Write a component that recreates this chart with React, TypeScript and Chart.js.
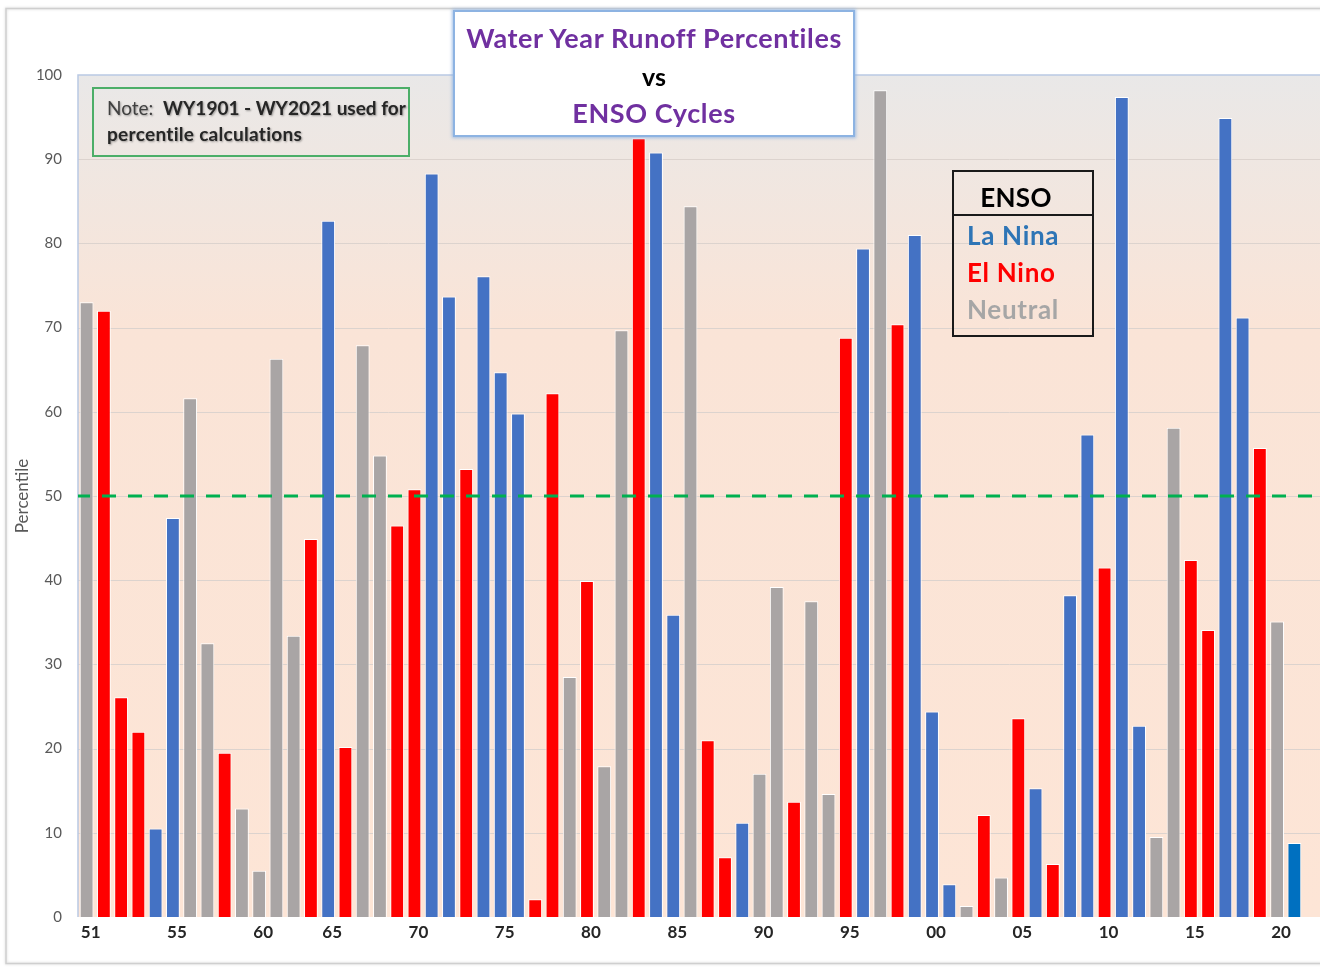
import React, { useEffect, useRef } from 'react';
import { Chart, registerables } from 'chart.js';

Chart.register(...registerables);

// ---- data ----
const years = [
  1951, 1952, 1953, 1954, 1955, 1956, 1957, 1958, 1959, 1960,
  1961, 1962, 1963, 1964, 1965, 1966, 1967, 1968, 1969, 1970,
  1971, 1972, 1973, 1974, 1975, 1976, 1977, 1978, 1979, 1980,
  1981, 1982, 1983, 1984, 1985, 1986, 1987, 1988, 1989, 1990,
  1991, 1992, 1993, 1994, 1995, 1996, 1997, 1998, 1999, 2000,
  2001, 2002, 2003, 2004, 2005, 2006, 2007, 2008, 2009, 2010,
  2011, 2012, 2013, 2014, 2015, 2016, 2017, 2018, 2019, 2020,
  2021,
];

const runoffPercentile = [
  73.0, 72.0, 26.1, 22.0, 10.5, 47.4, 61.6, 32.5, 19.5, 12.9,
  5.5, 66.3, 33.4, 44.9, 82.7, 20.2, 67.9, 54.8, 46.5, 50.8,
  88.3, 73.7, 53.2, 76.1, 64.7, 59.8, 2.1, 62.2, 28.5, 39.9,
  17.9, 69.7, 92.5, 90.8, 35.9, 84.4, 21.0, 7.1, 11.2, 17.0,
  39.2, 13.7, 37.5, 14.6, 68.8, 79.4, 98.2, 70.4, 81.0, 24.4,
  3.9, 1.3, 12.1, 4.7, 23.6, 15.3, 6.3, 38.2, 57.3, 41.5,
  97.4, 22.7, 9.5, 58.1, 42.4, 34.1, 94.9, 71.2, 55.7, 35.1,
  8.8,
];

// L = La Nina, E = El Nino, N = Neutral, Lp = La Nina (latest year, other shade)
const ensoPhase = [
  'N', 'E', 'E', 'E', 'L', 'L', 'N', 'N', 'E', 'N',
  'N', 'N', 'N', 'E', 'L', 'E', 'N', 'N', 'E', 'E',
  'L', 'L', 'E', 'L', 'L', 'L', 'E', 'E', 'N', 'E',
  'N', 'N', 'E', 'L', 'L', 'N', 'E', 'E', 'L', 'N',
  'N', 'E', 'N', 'N', 'E', 'L', 'N', 'E', 'L', 'L',
  'L', 'N', 'E', 'N', 'E', 'L', 'E', 'L', 'L', 'E',
  'L', 'L', 'N', 'N', 'E', 'E', 'L', 'L', 'E', 'N',
  'Lp',
];

// tick labels as they are placed on the reference (by bar year)
const tickLabelYears = [1951, 1956, 1961, 1965, 1970, 1975, 1980, 1985, 1990, 1995, 2000, 2005, 2010, 2015, 2020];
const tickLabelTexts = ['51', '55', '60', '65', '70', '75', '80', '85', '90', '95', '00', '05', '10', '15', '20'];

const medianLine = 50;

const phaseColors: Record<string, string> = {
  L: '#4472c4',
  E: '#ff0000',
  N: '#a9a5a5',
  Lp: '#0070c0',
};

const FONT = 'Lato, "Open Sans", "DejaVu Sans", sans-serif';
const W = 1320;
const H = 967;

const decorPlugin = {
  id: 'decor',
  beforeDraw(chart: any) {
    const { ctx, chartArea, scales } = chart;
    const { left, top, bottom } = chartArea;
    const right = W;
    ctx.save();
    // outer frame
    ctx.shadowColor = 'rgba(0,0,0,0.18)';
    ctx.shadowBlur = 3;
    ctx.strokeStyle = '#cfcfcf';
    ctx.lineWidth = 1.5;
    ctx.strokeRect(6, 8.5, W + 20, 955);
    ctx.shadowBlur = 0;
    ctx.shadowColor = 'transparent';
    // plot background gradient
    const g = ctx.createLinearGradient(0, top, 0, bottom);
    g.addColorStop(0, '#e9e8e8');
    g.addColorStop(0.1, '#efe7e2');
    g.addColorStop(0.3, '#fae4d7');
    g.addColorStop(1, '#fde5d6');
    ctx.fillStyle = g;
    ctx.fillRect(left, top, right - left, bottom - top);
    // grid lines
    const y = scales.y;
    ctx.strokeStyle = '#dcd3ce';
    ctx.lineWidth = 1;
    y.ticks.forEach((t: any) => {
      if (t.value === 0 || t.value === 100) return;
      const py = Math.round(y.getPixelForValue(t.value)) + 0.5;
      ctx.beginPath();
      ctx.moveTo(left, py);
      ctx.lineTo(right, py);
      ctx.stroke();
    });
    // plot border (top, left)
    ctx.strokeStyle = '#b9c9e4';
    ctx.lineWidth = 1.5;
    ctx.beginPath();
    ctx.moveTo(left, bottom);
    ctx.lineTo(left, top);
    ctx.lineTo(right, top);
    ctx.stroke();
    ctx.restore();
  },
  afterDatasetsDraw(chart: any) {
    const { ctx, chartArea, scales } = chart;
    const py = scales.y.getPixelForValue(medianLine);
    ctx.save();
    ctx.strokeStyle = '#00b050';
    ctx.lineWidth = 3;
    ctx.setLineDash([14, 12]);
    ctx.lineDashOffset = 2;
    ctx.beginPath();
    ctx.moveTo(chartArea.left, py);
    ctx.lineTo(W, py);
    ctx.stroke();
    ctx.restore();
  },
};

function Txt(props: { x: number; y: number; w: number; h?: number; align?: 'left' | 'center'; style?: React.CSSProperties; children: React.ReactNode }) {
  const h = props.h ?? 32;
  return (
    <div
      style={{
        position: 'absolute',
        left: props.x,
        top: props.y - h / 2,
        width: props.w,
        height: h,
        lineHeight: h + 'px',
        textAlign: props.align ?? 'left',
        whiteSpace: 'nowrap',
        fontFamily: FONT,
        ...props.style,
      }}
    >
      {props.children}
    </div>
  );
}

export default function App() {
  const canvasRef = useRef<HTMLCanvasElement | null>(null);

  useEffect(() => {
    const canvas = canvasRef.current;
    if (!canvas) return;
    const chart = new Chart(canvas, {
      type: 'bar',
      data: {
        labels: years.map(String),
        datasets: [
          {
            data: runoffPercentile,
            backgroundColor: ensoPhase.map((p) => phaseColors[p]),
            borderColor: '#ffffff',
            borderWidth: 1,
            barPercentage: 0.8,
            categoryPercentage: 1,
          },
        ],
      },
      options: {
        animation: false,
        responsive: false,
        maintainAspectRatio: false,
        layout: { padding: { top: 75, right: 17, left: 0, bottom: 0 } },
        plugins: {
          legend: { display: false },
          tooltip: { enabled: false },
          title: { display: false },
        },
        scales: {
          x: {
            grid: { display: false, drawTicks: false },
            border: { display: false },
            ticks: {
              autoSkip: false,
              maxRotation: 0,
              minRotation: 0,
              padding: 5,
              labelOffset: 4,
              color: '#262626',
              font: { family: FONT, size: 17, weight: 'bold' },
              callback: (_v: any, i: number) => {
                const k = tickLabelYears.indexOf(years[i]);
                return k >= 0 ? tickLabelTexts[k] : '';
              },
            },
            afterFit: (s: any) => {
              s.height = 50;
            },
          },
          y: {
            min: 0,
            max: 100,
            grid: { display: false, drawTicks: false },
            border: { display: false },
            ticks: {
              stepSize: 10,
              padding: 16,
              color: '#595959',
              font: { family: FONT, size: 15 },
            },
            title: {
              display: true,
              text: 'Percentile',
              color: '#595959',
              font: { family: FONT, size: 17 },
              padding: { top: 12, bottom: 0 },
            },
            afterFit: (s: any) => {
              s.width = 78;
            },
          },
        },
      },
      plugins: [decorPlugin],
    } as any);
    return () => chart.destroy();
  }, []);

  const titleStyle: React.CSSProperties = { color: '#7030a0', fontWeight: 700, fontSize: 27, letterSpacing: 0.6 };
  const noteShadow = '1px 1px 2px rgba(0,0,0,0.35)';
  const legendText: React.CSSProperties = { fontWeight: 700, fontSize: 26, letterSpacing: 0.7 };

  return (
    <div style={{ position: 'absolute', left: 0, top: 0, width: W, height: H, overflow: 'hidden', background: '#ffffff' }}>
      <canvas ref={canvasRef} width={W} height={H} style={{ position: 'absolute', left: 0, top: 0, width: W, height: H }} />

      {/* title box */}
      <div
        style={{
          position: 'absolute',
          left: 453,
          top: 10,
          width: 398,
          height: 123,
          border: '2px solid #8db3e2',
          boxShadow: '0 0 3px 1px rgba(141,179,226,0.8)',
          background: '#ffffff',
        }}
      />
      <Txt x={453} y={38} w={402} align="center" style={titleStyle}>
        Water Year Runoff Percentiles
      </Txt>
      <Txt x={453} y={76} w={402} align="center" style={{ color: '#000000', fontWeight: 700, fontSize: 25 }}>
        vs
      </Txt>
      <Txt x={453} y={113} w={402} align="center" style={titleStyle}>
        ENSO Cycles
      </Txt>

      {/* note box */}
      <div
        style={{
          position: 'absolute',
          left: 92,
          top: 87,
          width: 314,
          height: 66,
          border: '2px solid #4cae68',
        }}
      />
      <Txt x={107} y={108} w={300} h={26} style={{ color: '#262626', fontSize: 19, textShadow: noteShadow }}>
        <span style={{ fontWeight: 400, color: '#404040' }}>Note:&nbsp;&nbsp;</span>
        <span style={{ fontWeight: 700 }}>WY1901 - WY2021 used for</span>
      </Txt>
      <Txt x={107} y={134} w={300} h={26} style={{ color: '#262626', fontSize: 19, fontWeight: 700, letterSpacing: 0.3, textShadow: noteShadow }}>
        percentile calculations
      </Txt>

      {/* ENSO legend box */}
      <div
        style={{
          position: 'absolute',
          left: 952,
          top: 170,
          width: 138,
          height: 163,
          border: '2px solid #1a1a1a',
        }}
      />
      <div style={{ position: 'absolute', left: 952, top: 214, width: 142, height: 2, background: '#1a1a1a' }} />
      <Txt x={952} y={197} w={128} align="center" style={{ ...legendText, color: '#000000', letterSpacing: 0.3 }}>
        ENSO
      </Txt>
      <Txt x={967} y={235} w={125} style={{ ...legendText, color: '#2e75b6' }}>
        La Nina
      </Txt>
      <Txt x={967} y={272} w={125} style={{ ...legendText, color: '#ff0000' }}>
        El Nino
      </Txt>
      <Txt x={967} y={309} w={125} style={{ ...legendText, color: '#a6a6a6' }}>
        Neutral
      </Txt>
    </div>
  );
}
